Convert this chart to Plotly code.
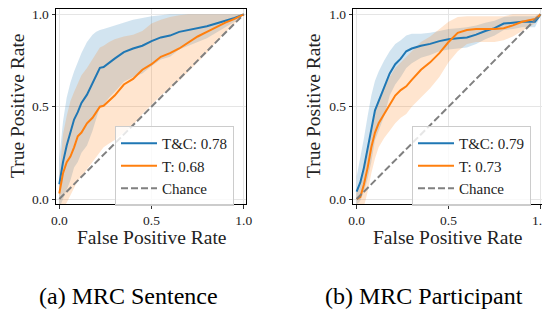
import plotly.graph_objects as go

# ---------------- data: (a) MRC Sentence ----------------
fpr_a = [0, 0.02, 0.04, 0.06, 0.08, 0.10, 0.12, 0.15, 0.18, 0.20, 0.22, 0.24, 0.27, 0.30,
         0.35, 0.40, 0.45, 0.50, 0.55, 0.60, 0.65, 0.70, 0.75, 0.80, 0.85, 0.90, 0.95, 1.00]
tc_mean_a = [0.08, 0.20, 0.29, 0.36, 0.43, 0.47, 0.52, 0.565, 0.63, 0.67, 0.71, 0.715, 0.74, 0.76,
             0.795, 0.815, 0.83, 0.855, 0.875, 0.885, 0.905, 0.915, 0.925, 0.935, 0.95, 0.965, 0.98, 1.0]
tc_upper_a = [0.22, 0.42, 0.55, 0.63, 0.69, 0.74, 0.79, 0.85, 0.89, 0.905, 0.915, 0.92, 0.93, 0.94,
              0.955, 0.97, 0.98, 0.99, 0.995, 1.0, 1.0, 1.0, 1.0, 1.0, 1.0, 1.0, 1.0, 1.0]
tc_lower_a = [-0.05, 0.0, 0.05, 0.10, 0.17, 0.20, 0.25, 0.29, 0.37, 0.43, 0.50, 0.51, 0.55, 0.58,
              0.635, 0.66, 0.68, 0.72, 0.755, 0.77, 0.81, 0.83, 0.85, 0.87, 0.90, 0.93, 0.96, 1.0]
t_mean_a = [0.03, 0.14, 0.20, 0.23, 0.28, 0.34, 0.36, 0.41, 0.44, 0.47, 0.50, 0.505, 0.53, 0.56,
            0.62, 0.65, 0.70, 0.73, 0.77, 0.79, 0.815, 0.85, 0.88, 0.905, 0.93, 0.955, 0.975, 1.0]
t_upper_a = [0.12, 0.35, 0.45, 0.53, 0.58, 0.63, 0.67, 0.71, 0.76, 0.79, 0.82, 0.83, 0.85, 0.865,
             0.88, 0.89, 0.91, 0.95, 0.97, 0.985, 0.995, 1.0, 1.0, 1.0, 1.0, 1.0, 1.0, 1.0]
t_lower_a = [-0.06, -0.05, -0.02, 0.02, 0.06, 0.10, 0.12, 0.16, 0.20, 0.23, 0.26, 0.28, 0.30, 0.32,
             0.36, 0.40, 0.46, 0.51, 0.56, 0.60, 0.64, 0.69, 0.74, 0.79, 0.85, 0.90, 0.95, 1.0]

# ---------------- data: (b) MRC Participant ----------------
fpr_b = [0, 0.02, 0.04, 0.06, 0.08, 0.10, 0.12, 0.15, 0.18, 0.21, 0.24, 0.27, 0.30, 0.35, 0.40,
         0.45, 0.50, 0.55, 0.60, 0.65, 0.70, 0.75, 0.80, 0.85, 0.90, 0.95, 0.97, 0.99, 1.0]
tc_mean_b = [0.04, 0.09, 0.17, 0.27, 0.38, 0.48, 0.53, 0.60, 0.68, 0.73, 0.76, 0.80, 0.815, 0.83, 0.84,
             0.855, 0.865, 0.87, 0.875, 0.89, 0.91, 0.925, 0.95, 0.955, 0.96, 0.96, 0.96, 0.985, 1.0]
tc_upper_b = [0.12, 0.22, 0.33, 0.45, 0.56, 0.64, 0.69, 0.75, 0.80, 0.84, 0.86, 0.885, 0.895, 0.895, 0.90,
              0.91, 0.92, 0.925, 0.93, 0.94, 0.955, 0.965, 0.985, 0.99, 0.99, 0.99, 0.99, 1.0, 1.0]
tc_lower_b = [-0.03, -0.01, 0.04, 0.11, 0.20, 0.32, 0.37, 0.45, 0.56, 0.62, 0.66, 0.71, 0.735, 0.765, 0.78,
              0.80, 0.81, 0.815, 0.82, 0.84, 0.865, 0.885, 0.915, 0.92, 0.93, 0.93, 0.93, 0.97, 1.0]
t_mean_b = [0.0, 0.01, 0.08, 0.17, 0.28, 0.36, 0.41, 0.46, 0.51, 0.56, 0.59, 0.61, 0.645, 0.70, 0.74,
            0.79, 0.85, 0.90, 0.915, 0.92, 0.92, 0.92, 0.925, 0.94, 0.96, 0.97, 0.975, 0.99, 1.0]
t_upper_b = [0.04, 0.10, 0.20, 0.30, 0.40, 0.48, 0.54, 0.60, 0.66, 0.71, 0.74, 0.77, 0.80, 0.85, 0.88,
             0.92, 0.96, 0.985, 0.99, 0.99, 0.99, 0.99, 0.99, 1.0, 1.0, 1.0, 1.0, 1.0, 1.0]
t_lower_b = [-0.04, -0.06, -0.04, 0.04, 0.14, 0.22, 0.28, 0.33, 0.37, 0.41, 0.44, 0.46, 0.50, 0.55, 0.60,
             0.66, 0.74, 0.80, 0.84, 0.85, 0.85, 0.85, 0.86, 0.88, 0.91, 0.94, 0.95, 0.98, 1.0]

chance = [0.0, 1.0]
names_a = ["T&C: 0.78", "T: 0.68", "Chance"]
names_b = ["T&C: 0.79", "T: 0.73", "Chance"]
tick_vals = [0.0, 0.5, 1.0]
tick_text = ["0.0", "0.5", "1.0"]
captions = ["(a) MRC Sentence", "(b) MRC Participant"]

BLUE = "#1f77b4"
ORANGE = "#ff7f0e"
BLUE_F = "rgba(31,119,180,0.2)"
ORANGE_F = "rgba(255,127,14,0.2)"
SERIF = "Liberation Serif"

fig = go.Figure()


def add_panel(xa, ya, leg, fpr, tcm, tcu, tcl, tm, tu, tl, names):
    # bands first (below the lines)
    for lo, up, fc in [(tcl, tcu, BLUE_F), (tl, tu, ORANGE_F)]:
        fig.add_trace(go.Scatter(x=fpr, y=lo, mode="lines", line=dict(width=0),
                                 hoverinfo="skip", showlegend=False, xaxis=xa, yaxis=ya))
        fig.add_trace(go.Scatter(x=fpr, y=up, mode="lines", line=dict(width=0), fill="tonexty",
                                 fillcolor=fc, hoverinfo="skip", showlegend=False, xaxis=xa, yaxis=ya))
    fig.add_trace(go.Scatter(x=fpr, y=tcm, mode="lines", name=names[0], line=dict(color=BLUE, width=2),
                             xaxis=xa, yaxis=ya, legend=leg, legendgroup=leg + "a"))
    fig.add_trace(go.Scatter(x=fpr, y=tm, mode="lines", name=names[1], line=dict(color=ORANGE, width=2),
                             xaxis=xa, yaxis=ya, legend=leg, legendgroup=leg + "b"))
    fig.add_trace(go.Scatter(x=chance, y=chance, mode="lines", name=names[2],
                             line=dict(color="#808080", width=2, dash="7px,3px"),
                             xaxis=xa, yaxis=ya, legend=leg, legendgroup=leg + "c"))


add_panel("x", "y", "legend", fpr_a, tc_mean_a, tc_upper_a, tc_lower_a, t_mean_a, t_upper_a, t_lower_a, names_a)
add_panel("x2", "y2", "legend2", fpr_b, tc_mean_b, tc_upper_b, tc_lower_b, t_mean_b, t_upper_b, t_lower_b, names_b)

W, H = 550, 309
OFF = 8  # page body margin of the browser


def fx(px):
    return (px - OFF) / W


def fy(py):
    return 1 - (py - OFF) / H


ax_common = dict(tickvals=tick_vals, ticktext=tick_text, showgrid=True, gridcolor="#e5e5e5", gridwidth=1,
                 zeroline=False, showline=True, linecolor="black", linewidth=1, mirror=True,
                 ticks="outside", ticklen=3.5, tickwidth=1, tickcolor="#333", automargin=False,
                 ticklabeloverflow="allow",
                 tickfont=dict(family=SERIF, size=13.5, color="#222"))
x_range = [-0.018, 1.012]
y_range = [-0.027, 1.031]
ydom = [fy(204), fy(8.6)]

leg_common = dict(font=dict(family=SERIF, size=15, color="#222"), bgcolor="rgba(255,255,255,0.8)",
                  bordercolor="#cccccc", borderwidth=1, xanchor="left", yanchor="top",
                  tracegroupgap=0, itemwidth=36)

fig.update_layout(
    width=W, height=H, margin=dict(l=0, r=0, t=0, b=0),
    paper_bgcolor="white", plot_bgcolor="white",
    xaxis=dict(domain=[fx(56), fx(246)], range=x_range, anchor="y", **ax_common),
    yaxis=dict(domain=ydom, range=y_range, anchor="x", **ax_common),
    xaxis2=dict(domain=[fx(353.3), fx(542.7)], range=x_range, anchor="y2", **ax_common),
    yaxis2=dict(domain=ydom, range=y_range, anchor="x2", **ax_common),
    legend=dict(x=fx(115), y=fy(126), **leg_common),
    legend2=dict(x=fx(412), y=fy(126), **leg_common),
)

ann = []
for cx, ylx in [(152, 17), (448, 313)]:
    ann.append(dict(text="False Positive Rate", x=fx(cx), y=fy(237), xref="paper", yref="paper",
                    showarrow=False, xanchor="center", yanchor="middle",
                    font=dict(family=SERIF, size=19.5, color="#222")))
    ann.append(dict(text="True Positive Rate", x=fx(ylx), y=fy(106), xref="paper", yref="paper",
                    showarrow=False, xanchor="center", yanchor="middle", textangle=-90,
                    font=dict(family=SERIF, size=19.5, color="#222")))
for cx, cap in zip([128, 424], captions):
    ann.append(dict(text=cap, x=fx(cx), y=fy(296), xref="paper", yref="paper", showarrow=False,
                    xanchor="center", yanchor="middle", font=dict(family=SERIF, size=24, color="black")))
fig.update_layout(annotations=ann)

fig.write_html("out.html")
